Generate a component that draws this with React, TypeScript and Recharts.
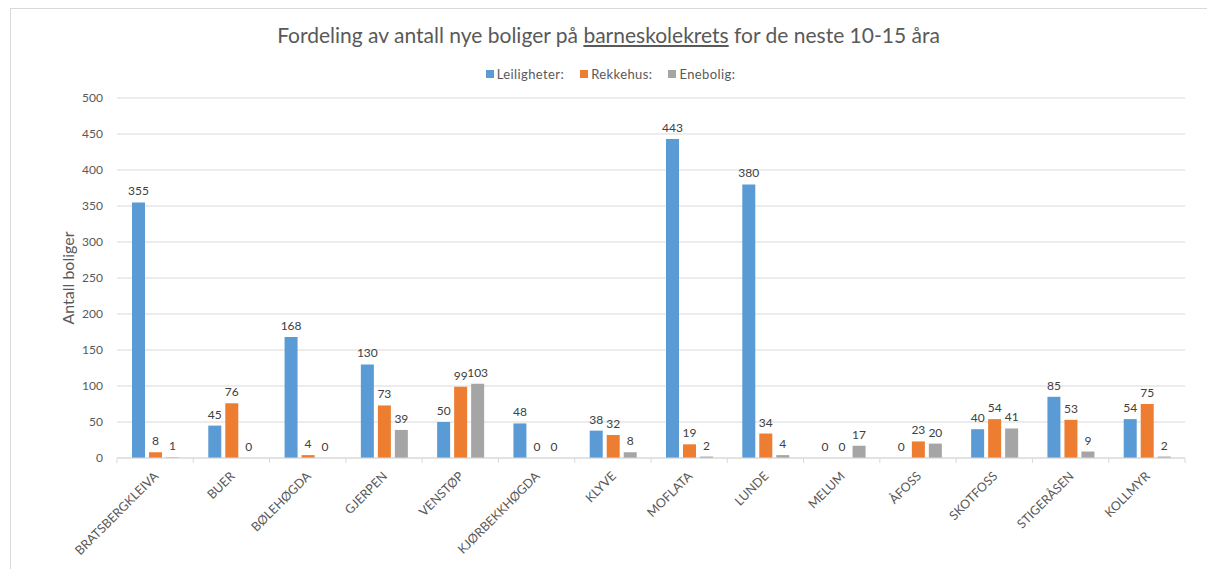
import React from 'react';
import { BarChart, Bar, XAxis, YAxis, CartesianGrid, LabelList, Legend } from 'recharts';

const categories = [
  'BRATSBERGKLEIVA', 'BUER', 'BØLEHØGDA', 'GJERPEN', 'VENSTØP', 'KJØRBEKKHØGDA', 'KLYVE',
  'MOFLATA', 'LUNDE', 'MELUM', 'ÅFOSS', 'SKOTFOSS', 'STIGERÅSEN', 'KOLLMYR',
];
const leiligheter = [355, 45, 168, 130, 50, 48, 38, 443, 380, 0, 0, 40, 85, 54];
const rekkehus = [8, 76, 4, 73, 99, 0, 32, 19, 34, 0, 23, 54, 53, 75];
const enebolig = [1, 0, 0, 39, 103, 0, 8, 2, 4, 17, 20, 41, 9, 2];
const seriesNames = ['Leiligheter:', 'Rekkehus:', 'Enebolig:'];
const yTicks = [0, 50, 100, 150, 200, 250, 300, 350, 400, 450, 500];
const titleBefore = 'Fordeling av antall nye boliger på ';
const titleUnderlined = 'barneskolekrets';
const titleAfter = ' for de neste 10-15 åra';
const yLabel = 'Antall boliger';

const data = categories.map((c, i) => ({
  name: c,
  l: leiligheter[i],
  r: rekkehus[i],
  e: enebolig[i],
}));

const FONT = 'Lato, "Liberation Sans", sans-serif';
const COLORS = ['#5B9BD5', '#ED7D31', '#A5A5A5'];
const TEXT = '#595959';
const GRID = '#D9D9D9';

// zero-valued bars get a practically invisible height so their "0" labels are still drawn
const zeroPoint = (value: any) => (value === 0 ? 0.01 : 0);

const XTick = (props: any) => {
  const { x, y, payload, index } = props;
  const half = payload && typeof payload.offset === 'number' && payload.offset > 0 ? payload.offset : 38;
  const isLast = index === categories.length - 1;
  const tx = x + 4;
  const ty = y + 19;
  return (
    <g>
      <line x1={x - half} x2={x - half} y1={y} y2={y + 5} stroke={GRID} />
      {isLast && <line x1={x + half} x2={x + half} y1={y} y2={y + 5} stroke={GRID} />}
      <text
        x={tx}
        y={ty}
        textAnchor="end"
        transform={`rotate(-45, ${tx}, ${ty})`}
        fontSize={12.5}
        fontFamily={FONT}
        fill={TEXT}
      >
        {payload.value}
      </text>
    </g>
  );
};

const LegendContent = () => (
  <div
    style={{
      display: 'flex',
      justifyContent: 'center',
      alignItems: 'center',
      fontFamily: FONT,
      fontSize: 13,
      letterSpacing: 0.4,
      color: TEXT,
      paddingLeft: 14,
    }}
  >
    {seriesNames.map((n, i) => (
      <span
        key={n}
        style={{ display: 'flex', alignItems: 'center', marginRight: i < seriesNames.length - 1 ? 16 : 0 }}
      >
        <span style={{ width: 8, height: 8, background: COLORS[i], marginRight: 3, display: 'inline-block' }} />
        {n}
      </span>
    ))}
  </div>
);

export default function App() {
  return (
    <div
      style={{
        position: 'absolute',
        left: 0,
        top: 0,
        width: 1207,
        height: 569,
        overflow: 'hidden',
        background: '#FFFFFF',
      }}
    >
      <div
        style={{
          position: 'absolute',
          left: 10,
          top: 8,
          width: 1197,
          height: 561,
          borderTop: '1px solid #D9D9D9',
          borderLeft: '1px solid #D9D9D9',
          boxSizing: 'border-box',
        }}
      />
      <div
        style={{
          position: 'absolute',
          left: 0,
          top: 21,
          width: 1217,
          textAlign: 'center',
          fontFamily: FONT,
          fontSize: 21,
          color: TEXT,
          lineHeight: '28px',
          whiteSpace: 'nowrap',
        }}
      >
        {titleBefore}
        <span style={{ textDecoration: 'underline' }}>{titleUnderlined}</span>
        {titleAfter}
      </div>
      <div style={{ position: 'absolute', left: 0, top: 0 }}>
        <BarChart
          width={1207}
          height={569}
          data={data}
          margin={{ top: 98, right: 22, bottom: 81, left: 0 }}
          barCategoryGap={15}
          barGap={4}
        >
          <CartesianGrid vertical={false} stroke={GRID} />
          <XAxis
            dataKey="name"
            height={30}
            interval={0}
            axisLine={{ stroke: GRID }}
            tickLine={false}
            tickSize={0}
            tickMargin={0}
            tick={<XTick />}
          />
          <YAxis
            width={117}
            domain={[0, 500]}
            ticks={yTicks}
            interval={0}
            axisLine={false}
            tickLine={false}
            tickSize={0}
            tickMargin={14}
            tick={{ fontSize: 12, fill: TEXT, fontFamily: FONT }}
            label={{
              value: yLabel,
              angle: -90,
              position: 'insideLeft',
              dx: 63,
              style: { fontSize: 16, fill: TEXT, fontFamily: FONT, textAnchor: 'middle' },
            }}
          />
          <Legend
            verticalAlign="middle"
            align="center"
            layout="horizontal"
            wrapperStyle={{ top: 66, left: 0, width: 1207 }}
            content={<LegendContent />}
          />
          <Bar dataKey="l" name={seriesNames[0]} fill={COLORS[0]} minPointSize={zeroPoint} isAnimationActive={false}>
            <LabelList dataKey="l" position="top" offset={7} fill="#404040" fontSize={12} fontFamily={FONT} />
          </Bar>
          <Bar dataKey="r" name={seriesNames[1]} fill={COLORS[1]} minPointSize={zeroPoint} isAnimationActive={false}>
            <LabelList dataKey="r" position="top" offset={7} fill="#404040" fontSize={12} fontFamily={FONT} />
          </Bar>
          <Bar dataKey="e" name={seriesNames[2]} fill={COLORS[2]} minPointSize={zeroPoint} isAnimationActive={false}>
            <LabelList dataKey="e" position="top" offset={7} fill="#404040" fontSize={12} fontFamily={FONT} />
          </Bar>
        </BarChart>
      </div>
    </div>
  );
}
